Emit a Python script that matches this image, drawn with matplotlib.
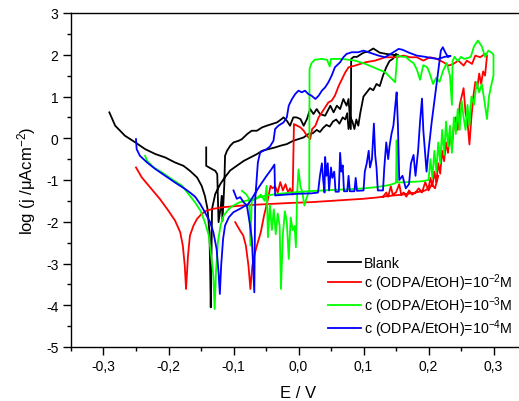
import numpy as np
import matplotlib
matplotlib.use("Agg")
import matplotlib.pyplot as plt
from matplotlib.ticker import FuncFormatter, MultipleLocator

plt.rcParams['font.family'] = ['Liberation Sans', 'DejaVu Sans']
plt.rcParams['mathtext.default'] = 'regular'

nan = float('nan')

# (E / V, log j); (nan, nan) breaks a line
blank_pts = [
    (-0.291, 0.62), (-0.282, 0.30), (-0.267, 0.06), (-0.251, -0.10), (-0.236, -0.26),
    (-0.220, -0.38), (-0.205, -0.46), (-0.190, -0.58), (-0.177, -0.66), (-0.167, -0.78),
    (-0.156, -0.94), (-0.149, -1.14), (-0.144, -1.38), (-0.140, -1.69), (-0.137, -2.25),
    (-0.136, -3.05), (-0.135, -4.05),
    (-0.133, -1.69), (-0.128, -1.33), (-0.120, -1.09), (-0.113, -0.93), (-0.105, -0.77),
    (-0.095, -0.66), (-0.084, -0.54), (-0.074, -0.46), (-0.064, -0.38), (-0.056, -0.30),
    (-0.046, -0.26), (-0.036, -0.22), (-0.028, -0.18), (-0.018, -0.14), (-0.008, -0.06),
    (0.000, -0.02), (0.008, 0.02), (0.015, 0.10), (0.022, 0.12), (0.028, 0.20),
    (0.033, 0.15), (0.038, 0.25), (0.043, 0.32), (0.048, 0.28), (0.053, 0.40),
    (0.058, 0.45), (0.063, 0.35), (0.068, 0.50), (0.072, 0.45), (0.075, 0.60),
    (0.077, 0.22), (0.080, 0.50), (0.083, 0.40), (0.086, 0.22), (0.089, 0.45),
    (0.092, 0.30), (0.095, 0.60), (0.100, 1.00), (0.105, 1.10), (0.110, 1.20),
    (0.115, 1.15), (0.120, 1.30), (0.125, 1.25), (0.130, 1.50), (0.135, 1.70),
    (0.140, 1.85), (0.145, 1.90), (0.150, 2.02),
    (0.154, 1.98), (0.145, 2.00), (0.135, 2.02), (0.125, 2.05), (0.115, 2.15),
    (0.108, 2.08), (0.100, 2.05), (0.090, 1.95), (0.085, 1.95), (0.081, 1.90),
    (0.0805, 0.22),
    (0.077, 0.94), (0.074, 0.78), (0.069, 0.94), (0.064, 0.70), (0.059, 0.78),
    (0.054, 0.62), (0.049, 0.78), (0.041, 0.54), (0.033, 0.58), (0.028, 0.70),
    (0.023, 0.58), (0.018, 0.70), (0.013, 0.46), (0.008, 0.30), (0.003, 0.46),
    (-0.003, 0.50), (-0.008, 0.50), (-0.013, 0.30), (-0.018, 0.42), (-0.023, 0.50),
    (-0.026, 0.46), (-0.033, 0.38), (-0.041, 0.34), (-0.049, 0.30), (-0.056, 0.26),
    (-0.064, 0.18), (-0.072, 0.18), (-0.079, 0.10), (-0.087, -0.02), (-0.092, -0.06),
    (-0.100, -0.10), (-0.105, -0.18), (-0.110, -0.30), (-0.113, -0.42), (-0.114, -1.06),
    (-0.115, -1.38), (-0.117, -1.98), (-0.118, -1.38), (-0.120, -1.69), (-0.123, -2.01),
    (-0.125, -0.86), (-0.128, -0.78), (-0.133, -0.74), (-0.142, -0.66), (-0.142, -0.22),
]

odpa2_pts = [
    (-0.250, -0.70), (-0.241, -0.94), (-0.228, -1.18), (-0.213, -1.46), (-0.200, -1.74),
    (-0.190, -1.97), (-0.182, -2.25), (-0.178, -2.57), (-0.175, -3.05), (-0.173, -3.61),
    (-0.170, -2.81), (-0.167, -2.33), (-0.1615, -2.09), (-0.156, -1.93), (-0.149, -1.81),
    (-0.141, -1.73), (-0.131, -1.69), (-0.115, -1.65), (-0.100, -1.63), (-0.085, -1.61),
    (-0.064, -1.59), (-0.038, -1.57), (-0.013, -1.55), (0.020, -1.53), (0.050, -1.50),
    (0.080, -1.47), (0.100, -1.45), (0.120, -1.42), (0.140, -1.38), (0.160, -1.35),
    (0.180, -1.30), (0.195, -1.25),
    (0.200, -1.20), (0.203, -0.95), (0.206, -1.15), (0.209, -0.80), (0.212, -1.05),
    (0.215, -0.60), (0.218, -0.85), (0.221, -0.30), (0.224, -0.55), (0.227, -0.10),
    (0.230, -0.35), (0.233, 0.10), (0.236, -0.20), (0.239, 0.30), (0.242, 0.50),
    (0.245, 0.20), (0.248, 0.80), (0.251, 1.00), (0.254, 1.20), (0.257, 0.60),
    (0.260, 0.40), (0.263, -0.15), (0.266, 0.50), (0.269, 1.00), (0.272, 1.35),
    (0.275, 1.20), (0.278, 1.55), (0.281, 1.30), (0.284, 1.60), (0.287, 1.50),
    (0.290, 1.98),
    (0.287, 2.02), (0.2795, 1.94), (0.272, 1.98), (0.267, 1.78), (0.259, 1.86),
    (0.254, 1.74), (0.246, 1.86), (0.238, 1.78), (0.231, 1.74), (0.223, 1.82),
    (0.213, 1.90), (0.2026, 1.94), (0.192, 1.86), (0.182, 1.94), (0.172, 1.94),
    (0.1615, 1.98), (0.151, 1.94), (0.1334, 1.94), (0.118, 1.86), (0.103, 1.82),
    (0.087, 1.74), (0.077, 1.70), (0.072, 1.58), (0.067, 1.42), (0.062, 1.26),
    (0.056, 1.02), (0.051, 0.90), (0.046, 0.86), (0.041, 0.74), (0.036, 0.62),
    (0.031, 0.50), (0.026, 0.30), (0.021, 0.22), (0.018, -0.02), (0.013, 0.06),
    (0.008, 0.18), (0.003, 0.26), (-0.002, 0.30), (-0.007, 0.34), (-0.009, -1.35),
    (-0.013, -1.20), (-0.016, -1.30), (-0.020, -1.10), (-0.024, -1.25), (-0.028, -1.05),
    (-0.032, -1.30), (-0.036, -1.15), (-0.040, -1.20), (-0.043, -1.14), (-0.046, -1.37),
    (-0.048, -1.53), (-0.053, -1.85), (-0.058, -2.25), (-0.064, -2.57), (-0.068, -2.81),
    (-0.071, -3.05), (-0.074, -3.61), (-0.077, -3.05), (-0.081, -2.57), (-0.085, -2.33),
    (-0.090, -2.21), (-0.0974, -2.01),
    (nan, nan),
    (0.130, -1.40), (0.135, -1.30), (0.138, -1.40), (0.142, -1.15), (0.145, -1.35),
    (0.150, -1.30), (0.155, -1.10), (0.158, -1.35), (0.162, -1.30), (0.166, -1.40),
    (0.170, -1.25), (0.175, -1.35), (0.180, -1.30), (0.185, -1.20), (0.190, -1.30),
    (0.195, -1.05), (0.200, -1.25), (0.205, -1.10), (0.210, -1.20), (0.215, -0.90),
]

odpa3_pts = [
    (-0.236, -0.42), (-0.233, -0.54), (-0.223, -0.70), (-0.210, -0.82), (-0.195, -0.98),
    (-0.179, -1.14), (-0.167, -1.38), (-0.159, -1.54), (-0.151, -1.73), (-0.144, -2.01),
    (-0.138, -2.33), (-0.135, -2.73), (-0.131, -3.29), (-0.129, -4.09), (-0.127, -3.21),
    (-0.124, -2.49), (-0.120, -2.09), (-0.115, -1.85), (-0.107, -1.69), (-0.100, -1.61),
    (-0.090, -1.53), (-0.079, -1.49), (-0.069, -1.45), (-0.059, -1.41), (-0.049, -1.37),
    (-0.030, -1.33), (-0.010, -1.30), (0.015, -1.27), (0.050, -1.24), (0.080, -1.22),
    (0.100, -1.20), (0.120, -1.17), (0.140, -1.12), (0.148, -1.08), (0.150, -1.06),
    (0.151, -0.05), (0.152, -1.06), (0.170, -1.05), (0.190, -1.03), (0.200, -1.00),
    (0.203, -0.50), (0.206, -0.95), (0.209, -0.30), (0.212, -0.80), (0.215, -0.10),
    (0.218, -0.60), (0.221, 0.20), (0.224, -0.40), (0.227, 0.40), (0.230, -0.20),
    (0.233, 0.30), (0.236, -0.35), (0.239, 0.50), (0.242, 0.10), (0.245, 0.70),
    (0.248, 0.20), (0.251, 0.90), (0.254, 0.50), (0.257, 0.20), (0.260, 0.80),
    (0.263, 0.30), (0.266, 1.00), (0.270, 0.80), (0.274, 1.34), (0.278, 1.10),
    (0.282, 1.30), (0.286, 0.90), (0.290, 0.46), (0.293, 1.00), (0.297, 1.30),
    (0.300, 1.50), (0.300, 2.00),
    (0.297, 2.05), (0.292, 2.10), (0.287, 1.95), (0.282, 2.20), (0.276, 2.34),
    (0.270, 2.20), (0.265, 1.95), (0.260, 1.92), (0.255, 1.90), (0.250, 1.95),
    (0.245, 1.85), (0.240, 1.95), (0.237, 1.85), (0.236, 0.80), (0.233, 1.50),
    (0.228, 1.80), (0.222, 1.60), (0.217, 1.35), (0.212, 1.45), (0.207, 1.30),
    (0.202, 1.55), (0.198, 1.70), (0.192, 1.75), (0.187, 1.40), (0.182, 1.65),
    (0.177, 1.80), (0.172, 1.85), (0.165, 1.95), (0.160, 1.95), (0.152, 1.98),
    (0.1487, 1.34), (0.1334, 1.58), (0.118, 1.68), (0.103, 1.78), (0.087, 1.86),
    (0.067, 1.90), (0.050, 1.90), (0.048, 1.72), (0.044, 1.88), (0.035, 1.90),
    (0.025, 1.88), (0.020, 1.80), (0.017, 1.66), (0.0165, -1.26),
    (0.012, -1.45), (0.009, -1.61), (0.006, -1.30), (0.003, -1.15), (0.000, -0.75),
    (-0.002, -1.30), (-0.004, -2.61), (-0.006, -2.10), (-0.009, -2.20), (-0.012, -1.90),
    (-0.015, -2.89), (-0.018, -2.00), (-0.021, -1.75), (-0.024, -2.30), (-0.027, -3.61),
    (-0.029, -2.10), (-0.032, -1.80), (-0.035, -2.30), (-0.038, -1.70), (-0.041, -2.20),
    (-0.044, -1.60), (-0.047, -2.37), (-0.049, -1.14), (-0.052, -1.50), (-0.058, -1.35),
    (-0.065, -1.45), (-0.072, -1.50), (-0.074, -2.57), (-0.076, -1.45), (-0.080, -1.35),
    (-0.087, -1.26),
]

odpa4_pts = [
    (-0.250, -0.02), (-0.249, -0.26), (-0.244, -0.42), (-0.233, -0.58), (-0.220, -0.74),
    (-0.205, -0.90), (-0.190, -1.06), (-0.174, -1.22), (-0.167, -1.30), (-0.159, -1.40),
    (-0.151, -1.58), (-0.144, -1.77), (-0.136, -2.01), (-0.131, -2.25), (-0.126, -2.65),
    (-0.123, -3.21), (-0.121, -3.73), (-0.119, -3.05), (-0.116, -2.41), (-0.113, -2.09),
    (-0.107, -1.89), (-0.100, -1.77), (-0.090, -1.69), (-0.077, -1.57), (-0.070, -1.40),
    (-0.060, -1.15), (-0.050, -0.92), (-0.042, -0.75), (-0.037, -0.63), (-0.036, -1.37),
    (-0.020, -1.35), (0.000, -1.33), (0.020, -1.32), (0.030, -1.30), (0.033, -0.90),
    (0.036, -0.60), (0.038, -1.00), (0.040, -1.30), (0.041, -0.45), (0.043, -0.90),
    (0.045, -0.60), (0.047, -1.25), (0.050, -0.70), (0.052, -0.95), (0.055, -0.80),
    (0.057, -1.28), (0.062, -1.28), (0.064, -0.35), (0.066, -0.80), (0.068, -0.65),
    (0.070, -1.27), (0.075, -1.27), (0.077, -0.90), (0.079, -1.27), (0.086, -1.27),
    (0.088, -0.95), (0.090, -1.26), (0.100, -1.25), (0.102, -0.80), (0.105, -0.60),
    (0.108, -0.30), (0.110, -0.70), (0.113, -0.50), (0.116, 0.35), (0.118, -0.40),
    (0.120, -0.70), (0.122, -1.25), (0.130, -1.25), (0.132, -0.70), (0.135, -0.10),
    (0.138, -0.50), (0.140, -0.20), (0.143, 0.10), (0.146, 0.30), (0.149, 0.80),
    (0.151, 1.10), (0.153, 0.30), (0.155, -1.00), (0.160, -0.90), (0.165, -1.20),
    (0.170, -1.10), (0.173, -0.60), (0.177, -0.40), (0.180, -0.90), (0.184, -0.30),
    (0.187, 0.40), (0.190, 0.95), (0.192, 0.20), (0.195, -0.40), (0.197, -0.80),
    (0.200, -0.30), (0.205, 0.40), (0.210, 1.00), (0.215, 1.60), (0.219, 2.10),
    (0.222, 2.18), (0.226, 2.05), (0.230, 1.95), (0.234, 1.97),
    (0.225, 1.95), (0.215, 1.90), (0.205, 1.92), (0.195, 1.95), (0.182, 1.98),
    (0.170, 2.05), (0.160, 2.12), (0.154, 2.14), (0.145, 2.05), (0.133, 1.94),
    (0.123, 1.98), (0.108, 2.06), (0.100, 2.10), (0.092, 2.06), (0.082, 2.06),
    (0.074, 2.02), (0.069, 1.94), (0.064, 1.82), (0.056, 1.70), (0.051, 1.50),
    (0.046, 1.34), (0.041, 1.22), (0.036, 1.14), (0.031, 1.02), (0.026, 0.94),
    (0.020, 1.02), (0.015, 1.06), (0.010, 1.14), (0.005, 1.10), (0.000, 1.14),
    (-0.005, 1.06), (-0.010, 0.94), (-0.015, 0.78), (-0.018, 0.50), (-0.023, 0.38),
    (-0.031, 0.30), (-0.036, 0.22), (-0.0385, -0.06), (-0.044, -0.20), (-0.049, -0.26),
    (-0.054, -0.30), (-0.059, -0.34), (-0.0625, -0.58), (-0.064, -0.90), (-0.0666, -1.46),
    (-0.068, -3.69), (-0.0718, -2.41), (-0.0744, -2.09), (-0.077, -1.85), (-0.0795, -1.61),
    (-0.0846, -1.53), (-0.0897, -1.41), (-0.095, -1.45), (-0.100, -1.25),
]

labels = ['Blank',
          'c (ODPA/EtOH)=10$^{-2}$M',
          'c (ODPA/EtOH)=10$^{-3}$M',
          'c (ODPA/EtOH)=10$^{-4}$M']
colors = ['black', '#ff0000', '#00ff00', '#0000ff']

fig = plt.figure(figsize=(5.19, 4.02), dpi=100)
ax = fig.add_axes([71 / 519, 1 - 348 / 402, 455 / 519, 334 / 402])

for pts, lab, col in zip([blank_pts, odpa2_pts, odpa3_pts, odpa4_pts], labels, colors):
    arr = np.array(pts)
    ax.plot(arr[:, 0], arr[:, 1], color=col, lw=1.3, label=lab)

ax.set_xlim(-0.35, 0.35)
ax.set_ylim(-5, 3)
ax.xaxis.set_major_locator(MultipleLocator(0.1))
ax.xaxis.set_minor_locator(MultipleLocator(0.05))
ax.yaxis.set_major_locator(MultipleLocator(1))
ax.yaxis.set_minor_locator(MultipleLocator(0.5))


def xfmt(v, pos):
    if abs(v) < 1e-9:
        v = 0.0
    return f"{v:.1f}".replace('.', ',')


ax.xaxis.set_major_formatter(FuncFormatter(xfmt))
ax.yaxis.set_major_formatter(FuncFormatter(lambda v, p: f"{int(round(v))}"))
ax.tick_params(which='major', direction='out', length=6, width=1, labelsize=10, pad=3)
ax.tick_params(which='minor', direction='out', length=3, width=1)
ax.tick_params(top=False, right=False)
for s in ax.spines.values():
    s.set_linewidth(1.0)

ax.set_xlabel('E / V', fontsize=12, labelpad=8)
ax.set_ylabel('log (j /\u03bcAcm$^{-2}$)', fontsize=12, labelpad=6)

ax.legend(loc='lower left', bbox_to_anchor=(0.565, 0.025), frameon=False,
          fontsize=10.3, handlelength=2.3, handletextpad=0.2, labelspacing=0.1,
          borderpad=0, borderaxespad=0)

fig.savefig('out.png', dpi=100)
